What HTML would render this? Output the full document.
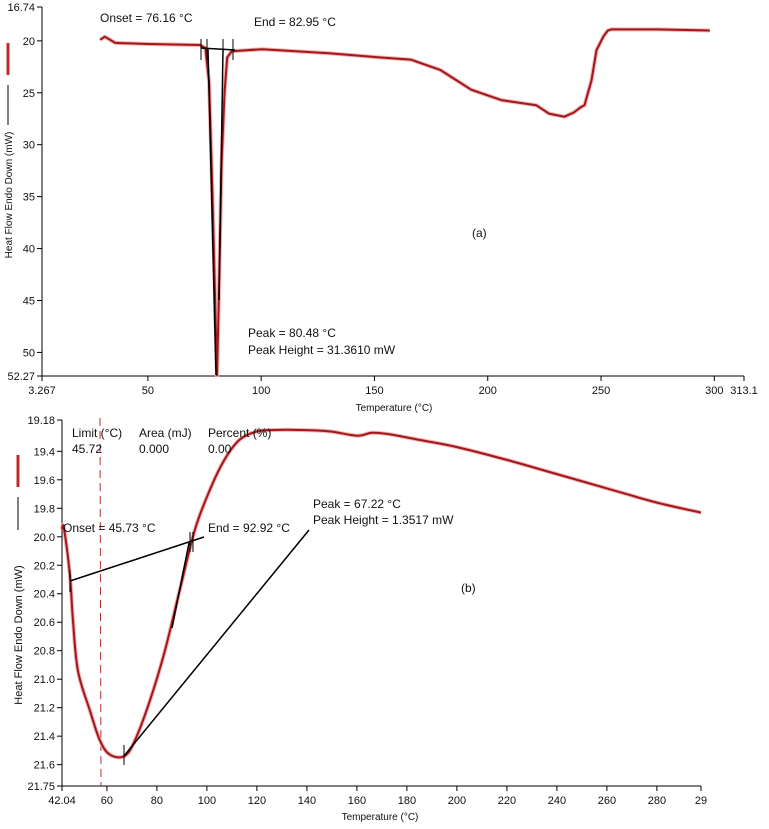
<!DOCTYPE html>
<html><head><meta charset="utf-8">
<style>
body{margin:0;background:#fff;}
svg{display:block;font-family:"Liberation Sans",sans-serif;}
text{fill:#111;}
</style></head>
<body>
<svg id="c" width="769" height="829" viewBox="0 0 769 829" xmlns="http://www.w3.org/2000/svg"></svg>
<script>
// Chart (a) data
const aTemp=[28.9,31,35.6,50,73,75.4,77,78.5,79.8,80.5,81.3,82.5,83.8,85,87,100.6,130,152.8,166,179,192.7,206,221.4,227,233.8,238,241,242.7,245.8,248,251,253,254.6,274.5,298];
const aVal=[19.9,19.6,20.2,20.3,20.4,20.7,24,35,46,52.2,45,32,25,21.6,21,20.8,21.2,21.6,21.8,22.8,24.7,25.7,26.2,27,27.3,26.9,26.4,26.2,23.8,20.9,19.6,19,18.9,18.9,19];
const aYTicks=[20,25,30,35,40,45,50];
const aXTicks=[50,100,150,200,250,300];
// Chart (b) data
const bTemp=[42,42.8,45.2,46.4,48.4,53.2,57.2,61.2,67,71.2,77.2,83.2,89.2,95.2,101.2,107,113,120,127,137,149,160,166,173,185,200,220,240,260,280,297.6];
const bVal=[19.95,19.94,20.27,20.58,20.94,21.22,21.43,21.53,21.54,21.43,21.15,20.8,20.37,19.95,19.67,19.46,19.32,19.26,19.25,19.25,19.26,19.29,19.27,19.28,19.32,19.37,19.46,19.56,19.66,19.76,19.83];
const bYTicks=[19.4,19.6,19.8,20.0,20.2,20.4,20.6,20.8,21.0,21.2,21.4,21.6];
const bXTicks=[60,80,100,120,140,160,180,200,220,240,260,280];

const svg=document.getElementById('c');
const NS='http://www.w3.org/2000/svg';
function mk(tag,attrs,txt){const e=document.createElementNS(NS,tag);for(const k in attrs)e.setAttribute(k,attrs[k]);if(txt!==undefined)e.textContent=txt;svg.appendChild(e);return e;}

// axis functions
const ax=t=>42+(t-3.267)*(744-42)/(313.1-3.267);
const ay=v=>7+(v-16.74)*(376-7)/(52.27-16.74);
const bx=t=>62+(t-42.04)*2.5;
const by=v=>420+(v-19.18)*(786-420)/(21.75-19.18);

function axes(x0,x1,y0,y1,yt,yf,xt,xf,ymin,ymax,xmin,xmaxLbl,pre){
  let e=mk('line',{x1:x0,y1:y0,x2:x0,y2:y1,stroke:'#000'});
  
  e=mk('line',{x1:x0,y1:y1,x2:x1,y2:y1,stroke:'#000'});
  
  [[ymin,y0],...yt.map(v=>[v,yf(v)]),[ymax,y1]].forEach(([v,p])=>{
    mk('line',{x1:x0-5,y1:p,x2:x0,y2:p,stroke:'#000'});
    e=mk('text',{x:x0-7,y:p+4,'text-anchor':'end','font-size':11},typeof v==='number'&&pre==='b'?v.toFixed(1):v);
    
  });
  [[xmin,x0],...xt.map(v=>[v,xf(v)]),[xmaxLbl,x1]].forEach(([v,p])=>{
    mk('line',{x1:p,y1:y1,x2:p,y2:y1+5,stroke:'#000'});
    e=mk('text',{x:p,y:y1+18,'text-anchor':'middle','font-size':11},v);
    
  });
}
axes(42,744,7,376,aYTicks,ay,aXTicks,ax,'16.74','52.27','3.267','313.1','a');
axes(62,701,420,786,bYTicks,by,bXTicks,bx,'19.18','21.75','42.04','29','b');

function txt(x,y,s,name,size,anchor){const e=mk('text',{x:x,y:y,'font-size':size||12,'text-anchor':anchor||'start'},s);return e;}
txt(394,411,'Temperature (°C)','a-x-axis-title',10,'middle');
txt(380,820,'Temperature (°C)','b-x-axis-title',10,'middle');
let t=txt(0,0,'Heat Flow Endo Down (mW)','a-y-axis-title',10,'middle');t.setAttribute('transform','translate(12,195) rotate(-90)');
t=txt(0,0,'Heat Flow Endo Down (mW)','b-y-axis-title',11,'middle');t.setAttribute('transform','translate(22,635) rotate(-90)');

// legend marks
let l=mk('line',{x1:8,y1:43,x2:8,y2:75,stroke:'#c0282a','stroke-width':3});
l=mk('line',{x1:8,y1:85,x2:8,y2:125,stroke:'#000'});
l=mk('line',{x1:18,y1:455,x2:18,y2:487,stroke:'#c0282a','stroke-width':3});
l=mk('line',{x1:18,y1:497,x2:18,y2:530,stroke:'#000'});

// dashed limit line
l=mk('line',{x1:100,y1:418,x2:101,y2:786,stroke:'#b03030','stroke-dasharray':'8,5'});

// curves
function pathLinear(P){return P.map((p,i)=>(i?'L':'M')+p[0].toFixed(1)+','+p[1].toFixed(1)).join(' ');}
function pathSmooth(P){
  let d='M'+P[0][0].toFixed(1)+','+P[0][1].toFixed(1);
  for(let i=0;i<P.length-1;i++){
    const p0=P[Math.max(0,i-1)],p1=P[i],p2=P[i+1],p3=P[Math.min(P.length-1,i+2)];
    const c1=[p1[0]+(p2[0]-p0[0])/6,p1[1]+(p2[1]-p0[1])/6];
    const c2=[p2[0]-(p3[0]-p1[0])/6,p2[1]-(p3[1]-p1[1])/6];
    d+=' C'+c1[0].toFixed(1)+','+c1[1].toFixed(1)+' '+c2[0].toFixed(1)+','+c2[1].toFixed(1)+' '+p2[0].toFixed(1)+','+p2[1].toFixed(1);
  }
  return d;
}
function curve(T,V,fx,fy,name,smooth){
  const P=T.map((tt,i)=>[fx(tt),fy(V[i])]);
  const d=smooth?pathSmooth(P):pathLinear(P);
  const g=mk('path',{d:d,fill:'none',stroke:'#f4b0b0','stroke-width':4,'stroke-linejoin':'round'});
  
  const p=mk('path',{d:d,fill:'none',stroke:'#a0181c','stroke-width':2,'stroke-linejoin':'round'});
  
}
curve(aTemp,aVal,ax,ay,'a-heatflow-curve',false);
curve(bTemp,bVal,bx,by,'b-heatflow-curve',true);

// analysis lines
function bl(x1,y1,x2,y2,name,w){const e=mk('line',{x1:x1,y1:y1,x2:x2,y2:y2,stroke:'#000','stroke-width':w||1.5});}
bl(201,48,235,50,'a-baseline');
bl(208,49,216,375,'a-left-tangent');bl(223,49,219,300,'a-right-tangent');
[201,207,223,233].forEach(x=>bl(x,39,x,60,'a-marker-tick',1));
bl(70,581,204,537,'b-baseline');
bl(172,628,189,543,'b-tangent');
bl(124,756,309,530,'b-peak-line');
bl(70,570,70,592,'b-onset-tick',1);bl(124,745,124,765,'b-peak-tick',1);
bl(190,532,190,552,'b-end-tick',1);bl(193,532,193,552,'b-end-tick',1);

// annotations
txt(100,22,'Onset = 76.16 °C','a-onset-label');
txt(254,26,'End = 82.95 °C','a-end-label');
txt(248,337,'Peak = 80.48 °C','a-peak-label');
txt(248,354,'Peak Height = 31.3610 mW','a-peak-height-label');
txt(472,237,'(a)','a-panel-label');
txt(72,437,'Limit (°C)','b-limit-header');txt(139,437,'Area (mJ)','b-area-header');txt(208,437,'Percent (%)','b-percent-header');
txt(72,453,'45.72','b-limit-value');txt(139,453,'0.000','b-area-value');txt(208,453,'0.00','b-percent-value');
txt(63,532,'Onset = 45.73 °C','b-onset-label');
txt(208,532,'End = 92.92 °C','b-end-label');
txt(313,508,'Peak = 67.22 °C','b-peak-label');
txt(313,524,'Peak Height = 1.3517 mW','b-peak-height-label');
txt(461,592,'(b)','b-panel-label');
</script>
</body></html>
